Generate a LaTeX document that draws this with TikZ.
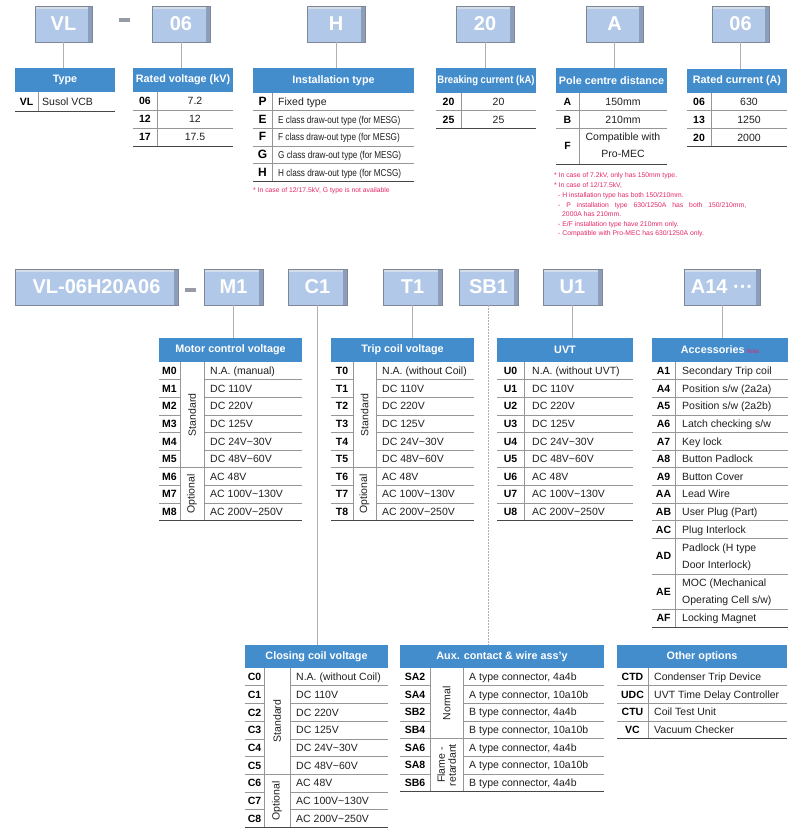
\documentclass[tikz,border=0pt]{standalone}
\usepackage{fontspec}
\setmainfont{Liberation Sans}
\usepackage{graphicx}
\definecolor{hdrblue}{RGB}{68,141,205}
\definecolor{boxfill}{RGB}{178,200,232}
\definecolor{boxedge}{RGB}{125,135,150}
\definecolor{boxside}{RGB}{140,158,186}
\definecolor{boxtop}{RGB}{212,220,232}
\definecolor{notered}{RGB}{228,40,100}
\definecolor{rowgray}{RGB}{150,150,150}
\definecolor{darkline}{RGB}{70,70,70}
\definecolor{connector}{RGB}{175,175,175}
\definecolor{dashgray}{RGB}{150,155,165}
\newcommand{\tild}{\textasciitilde}
\newcommand{\smallv}[1]{{\fontsize{10}{12}\selectfont\scalebox{0.82}[1]{#1}}}
\newcommand{\bigc}[1]{{\fontsize{12}{12}\selectfont #1}}
\tikzset{
  hdr/.style={fill=hdrblue, text=white, font=\bfseries\fontsize{10.8}{12}\selectfont, inner sep=0pt, outer sep=0pt},
  codetxt/.style={font=\bfseries\fontsize{10.5}{12}\selectfont, inner sep=0pt, text=black},
  valtxt/.style={font=\fontsize{10.5}{12}\selectfont, inner sep=0pt, text=black!88},
  rowline/.style={draw=rowgray, line width=0.6pt},
  botline/.style={draw=darkline, line width=1pt},
  colline/.style={draw=rowgray, line width=0.6pt},
  conn/.style={draw=connector, line width=0.7pt},
  notetxt/.style={text=notered, font=\fontsize{6.8}{8}\selectfont, inner sep=0pt, anchor=base west},
  cattxt/.style={font=\fontsize{10.5}{11}\selectfont, rotate=90, inner sep=0pt, align=center, text=black!88},
  codebox/.style={fill=boxfill, draw=boxedge, line width=0.8pt, text=white,
    font=\bfseries\fontsize{20}{22}\selectfont, inner sep=0pt, minimum height=36pt,
    path picture={
      \fill[boxtop] (path picture bounding box.north west) rectangle ([yshift=-3pt]path picture bounding box.north east);
      \fill[boxside] ([xshift=-4pt]path picture bounding box.north east) rectangle (path picture bounding box.south east);
    }},
}
% header: name xL xR yT yB text
\newcommand{\hdrbox}[6]{\node[hdr, anchor=north west, minimum width={(#3-#2)*1pt}, minimum height={(#5-#4)*1pt}] (#1) at (#2,#4) {#6};}
% two-column rows: name xL xS xR yH rh vx anchor list
\newcommand{\rowstwo}[9]{%
  \foreach \c/\v [count=\i from 0] in {#9} {%
    \node[codetxt, anchor=base] (#1c\i) at ({(#2+#3)/2},{#5+(\i+0.5)*#6+3.8}) {\c};
    \node[valtxt, anchor=#8] (#1v\i) at (#7,{#5+(\i+0.5)*#6+3.8}) {\v};
    \draw[rowline] (#2,{#5+(\i+1)*#6}) -- (#4,{#5+(\i+1)*#6});
  }}
% three-column rows: name xL xC xS xR yH rh list
\newcommand{\rowsthree}[8]{%
  \foreach \c/\v [count=\i from 0] in {#8} {%
    \node[codetxt, anchor=base] (#1c\i) at ({(#2+#3)/2},{#6+(\i+0.5)*#7+3.8}) {\c};
    \node[valtxt, anchor=base west] (#1v\i) at ({#4+6},{#6+(\i+0.5)*#7+3.8}) {\v};
    \draw[rowline] (#2,{#6+(\i+1)*#7}) -- (#3,{#6+(\i+1)*#7});
    \draw[rowline] (#4,{#6+(\i+1)*#7}) -- (#5,{#6+(\i+1)*#7});
  }}
\begin{document}
\begin{tikzpicture}[x=1pt,y=-1pt]
\fill[white] (0,0) rectangle (800,831);
\useasboundingbox (0,0) rectangle (800,831);

% ---------- top row code boxes ----------
\node[codebox, minimum width=57pt] (bVL) at (63.5,24) {VL};
\node[codebox, minimum width=58pt] (b06) at (181,24) {06};
\node[codebox, minimum width=58pt] (bH) at (336,24) {H};
\node[codebox, minimum width=58pt] (b20) at (485,24) {20};
\node[codebox, minimum width=57pt] (bA) at (614.5,24) {A};
\node[codebox, minimum width=57pt] (b06b) at (740.5,24) {06};
\fill[dashgray] (119,18) rectangle (130,21.5);

% ---------- Type ----------
\hdrbox{hType}{15}{115}{68}{92}{Type}
\rowstwo{tType}{15}{38}{115}{92}{19}{42}{base west}{VL/Susol VCB}
\draw[colline] (38,92) -- (38,111);
\draw[botline] (15,111) -- (115,111);

% ---------- Rated voltage ----------
\hdrbox{hRV}{133}{233}{68}{92}{Rated voltage (kV)}
\rowstwo{tRV}{133}{157}{233}{92}{18}{195}{base}{06/7.2, 12/12, 17/17.5}
\draw[colline] (157,92) -- (157,146);
\draw[botline] (133,146) -- (233,146);

% ---------- Installation type ----------
\hdrbox{hInst}{253}{414}{68}{93}{Installation type}
\rowstwo{tInst}{253}{272}{414}{93}{17.6}{278}{base west}{{\bigc{P}}/Fixed type, {\bigc{E}}/{\smallv{E class draw-out type (for MESG)}}, {\bigc{F}}/{\smallv{F class draw-out type (for MESG)}}, {\bigc{G}}/{\smallv{G class draw-out type (for MESG)}}, {\bigc{H}}/{\smallv{H class draw-out type (for MCSG)}}}
\draw[colline] (272,93) -- (272,181);
\draw[botline] (253,181) -- (414,181);
\node[notetxt] (instNote) at (253,192) {* In case of 12/17.5kV, G type is not available};

% ---------- Breaking current ----------
\hdrbox{hBC}{436}{536}{68}{93}{\scalebox{0.88}[1]{Breaking current (kA)}}
\rowstwo{tBC}{436}{461}{536}{93}{17.5}{498.5}{base}{20/20, 25/25}
\draw[colline] (461,93) -- (461,128);
\draw[botline] (436,128) -- (536,128);

% ---------- Pole centre distance ----------
\hdrbox{hPole}{556}{667}{68}{93}{Pole centre distance}
\rowstwo{tPole}{556}{579}{667}{93}{17.5}{623}{base}{A/150mm, B/210mm}
\node[codetxt, anchor=base] (tPolec2) at (567.5,149.8) {F};
\node[valtxt, anchor=base] (tPolev2a) at (623,140.8) {Compatible with};
\node[valtxt, anchor=base] (tPolev2b) at (623,157.8) {Pro-MEC};
\draw[colline] (579,93) -- (579,164);
\draw[botline] (556,164) -- (667,164);
\node[notetxt] (pn1) at (554,177.5) {* In case of 7.2kV, only has 150mm type.};
\node[notetxt] (pn2) at (554,187.5) {* In case of 12/17.5kV,};
\node[notetxt] (pn3) at (558,197.5) {- H installation type has both 150/210mm.};
\node[notetxt] (pn4) at (558,207.5) {\makebox[188pt][s]{- P installation type 630/1250A has both 150/210mm,}};
\node[notetxt] (pn5) at (562,216.5) {2000A has 210mm.};
\node[notetxt] (pn6) at (558,226.5) {- E/F installation type have 210mm only.};
\node[notetxt] (pn7) at (558,235.5) {- Compatible with Pro-MEC has 630/1250A only.};

% ---------- Rated current ----------
\hdrbox{hRC}{687}{787}{69}{93}{Rated current (A)}
\rowstwo{tRC}{687}{711}{787}{93}{17.7}{749}{base}{06/630, 13/1250, 20/2000}
\draw[colline] (711,93) -- (711,146);
\draw[botline] (687,146) -- (787,146);

% ---------- top connectors ----------
\draw[conn] (bVL.south) -- (bVL.south |- hType.north);
\draw[conn] (b06.south) -- (b06.south |- hRV.north);
\draw[conn] (bH.south) -- (bH.south |- hInst.north);
\draw[conn] (b20.south) -- (b20.south |- hBC.north);
\draw[conn] (bA.south) -- (bA.south |- hPole.north);
\draw[conn] (b06b.south) -- (b06b.south |- hRC.north);

% ---------- second row code boxes ----------
\node[codebox, minimum width=163pt] (bFull) at (96.5,287) {VL-06H20A06};
\fill[dashgray] (185,288) rectangle (196,291.5);
\node[codebox, minimum width=59pt] (bM1) at (233.5,287) {M1};
\node[codebox, minimum width=59pt] (bC1) at (317.5,287) {C1};
\node[codebox, minimum width=59pt] (bT1) at (412.5,287) {T1};
\node[codebox, minimum width=59pt] (bSB1) at (488.5,287) {SB1};
\node[codebox, minimum width=59pt] (bU1) at (572.5,287) {U1};
\node[codebox, minimum width=76pt] (bA14) at (722,287) {A14 ···};

% ---------- Motor control voltage ----------
\hdrbox{hMotor}{159}{302}{338}{362}{Motor control voltage}
\rowsthree{tMot}{159}{180}{204}{302}{362}{17.6}{M0/N.A. (manual), M1/DC 110V, M2/DC 220V, M3/DC 125V, M4/DC 24V\tild30V, M5/DC 48V\tild60V, M6/AC 48V, M7/AC 100V\tild130V, M8/AC 200V\tild250V}
\draw[rowline] (180,{362+6*17.6}) -- (204,{362+6*17.6});
\draw[colline] (180,362) -- (180,{362+9*17.6});
\draw[colline] (204,362) -- (204,{362+9*17.6});
\draw[botline] (159,{362+9*17.6}) -- (302,{362+9*17.6});
\node[cattxt] (motStd) at (192,{362+3*17.6}) {Standard};
\node[cattxt] (motOpt) at (192,{362+7.5*17.6}) {Optional};

% ---------- Trip coil voltage ----------
\hdrbox{hTrip}{331}{474}{338}{362}{Trip coil voltage}
\rowsthree{tTrip}{331}{353}{376}{474}{362}{17.6}{T0/N.A. (without Coil), T1/DC 110V, T2/DC 220V, T3/DC 125V, T4/DC 24V\tild30V, T5/DC 48V\tild60V, T6/AC 48V, T7/AC 100V\tild130V, T8/AC 200V\tild250V}
\draw[rowline] (353,{362+6*17.6}) -- (376,{362+6*17.6});
\draw[colline] (353,362) -- (353,{362+9*17.6});
\draw[colline] (376,362) -- (376,{362+9*17.6});
\draw[botline] (331,{362+9*17.6}) -- (474,{362+9*17.6});
\node[cattxt] (tripStd) at (364.5,{362+3*17.6}) {Standard};
\node[cattxt] (tripOpt) at (364.5,{362+7.5*17.6}) {Optional};

% ---------- UVT ----------
\hdrbox{hUVT}{497}{633}{338}{362}{UVT}
\rowstwo{tUVT}{497}{524}{633}{362}{17.6}{532}{base west}{U0/N.A. (without UVT), U1/DC 110V, U2/DC 220V, U3/DC 125V, U4/DC 24V\tild30V, U5/DC 48V\tild60V, U6/AC 48V, U7/AC 100V\tild130V, U8/AC 200V\tild250V}
\draw[colline] (524,362) -- (524,{362+9*17.6});
\draw[botline] (497,{362+9*17.6}) -- (633,{362+9*17.6});

% ---------- Accessories ----------
\hdrbox{hAcc}{652}{788}{338}{362}{Accessories\,{\color{notered}\mdseries\fontsize{6}{7}\selectfont Note}}
\rowstwo{tAcc}{652}{675}{788}{362}{17.6}{682}{base west}{A1/Secondary Trip coil, A4/{Position s/w (2a2a)}, A5/{Position s/w (2a2b)}, A6/{Latch checking s/w}, A7/Key lock, A8/Button Padlock, A9/Button Cover, AA/Lead Wire, AB/User Plug (Part), AC/Plug Interlock}
\node[codetxt, anchor=base] (tAccAD) at (663.5,559.8) {AD};
\node[valtxt, anchor=base west] (tAccADa) at (682,551.8) {Padlock (H type};
\node[valtxt, anchor=base west] (tAccADb) at (682,568.8) {Door Interlock)};
\draw[rowline] (652,574) -- (788,574);
\node[codetxt, anchor=base] (tAccAE) at (663.5,595.3) {AE};
\node[valtxt, anchor=base west] (tAccAEa) at (682,586.3) {MOC (Mechanical};
\node[valtxt, anchor=base west] (tAccAEb) at (682,603.3) {Operating Cell s/w)};
\draw[rowline] (652,609) -- (788,609);
\node[codetxt, anchor=base] (tAccAF) at (663.5,621.8) {AF};
\node[valtxt, anchor=base west] (tAccAFv) at (682,621.8) {Locking Magnet};
\draw[colline] (675,362) -- (675,627);
\draw[botline] (652,627) -- (788,627);

% ---------- Closing coil voltage ----------
\hdrbox{hClose}{245}{388}{645}{668}{Closing coil voltage}
\rowsthree{tClo}{245}{264}{290}{388}{668}{17.7}{C0/N.A. (without Coil), C1/DC 110V, C2/DC 220V, C3/DC 125V, C4/DC 24V\tild30V, C5/DC 48V\tild60V, C6/AC 48V, C7/AC 100V\tild130V, C8/AC 200V\tild250V}
\draw[rowline] (264,{668+6*17.7}) -- (290,{668+6*17.7});
\draw[colline] (264,668) -- (264,{668+9*17.7});
\draw[colline] (290,668) -- (290,{668+9*17.7});
\draw[botline] (245,{668+9*17.7}) -- (388,{668+9*17.7});
\node[cattxt] (cloStd) at (277,{668+3*17.7}) {Standard};
\node[cattxt] (cloOpt) at (277,{668+7.5*17.7}) {Optional};

% ---------- Aux contact ----------
\hdrbox{hAux}{400}{604}{645}{668}{Aux. contact \& wire ass'y}
\rowsthree{tAux}{400}{430}{463}{604}{668}{17.67}{SA2/{A type connector, 4a4b}, SA4/{A type connector, 10a10b}, SB2/{B type connector, 4a4b}, SB4/{B type connector, 10a10b}, SA6/{A type connector, 4a4b}, SA8/{A type connector, 10a10b}, SB6/{B type connector, 4a4b}}
\draw[rowline] (430,{668+4*17.67}) -- (463,{668+4*17.67});
\draw[colline] (430,668) -- (430,{668+7*17.67});
\draw[colline] (463,668) -- (463,{668+7*17.67});
\draw[botline] (400,{668+7*17.67}) -- (604,{668+7*17.67});
\node[cattxt] (auxNor) at (446.5,{668+2*17.67}) {Normal};
\node[cattxt] (auxFR) at (446.5,{668+5.5*17.67}) {Flame -\\retardant};

% ---------- Other options ----------
\hdrbox{hOther}{617}{787}{645}{668}{Other options}
\rowstwo{tOth}{617}{648}{787}{668}{17.67}{654}{base west}{CTD/Condenser Trip Device, UDC/UVT Time Delay Controller, CTU/Coil Test Unit, VC/Vacuum Checker}
\draw[colline] (648,668) -- (648,{668+4*17.67});
\draw[botline] (617,{668+4*17.67}) -- (787,{668+4*17.67});

% ---------- second row connectors ----------
\draw[conn] (bM1.south) -- (bM1.south |- hMotor.north);
\draw[conn] (bC1.south) -- (bC1.south |- hClose.north);
\draw[conn] (bT1.south) -- (bT1.south |- hTrip.north);
\draw[conn, dash pattern=on 2pt off 1pt] (bSB1.south) -- (bSB1.south |- hAux.north);
\draw[conn] (bU1.south) -- (bU1.south |- hUVT.north);
\draw[conn] (bA14.south) -- (bA14.south |- hAcc.north);
\end{tikzpicture}
\end{document}
